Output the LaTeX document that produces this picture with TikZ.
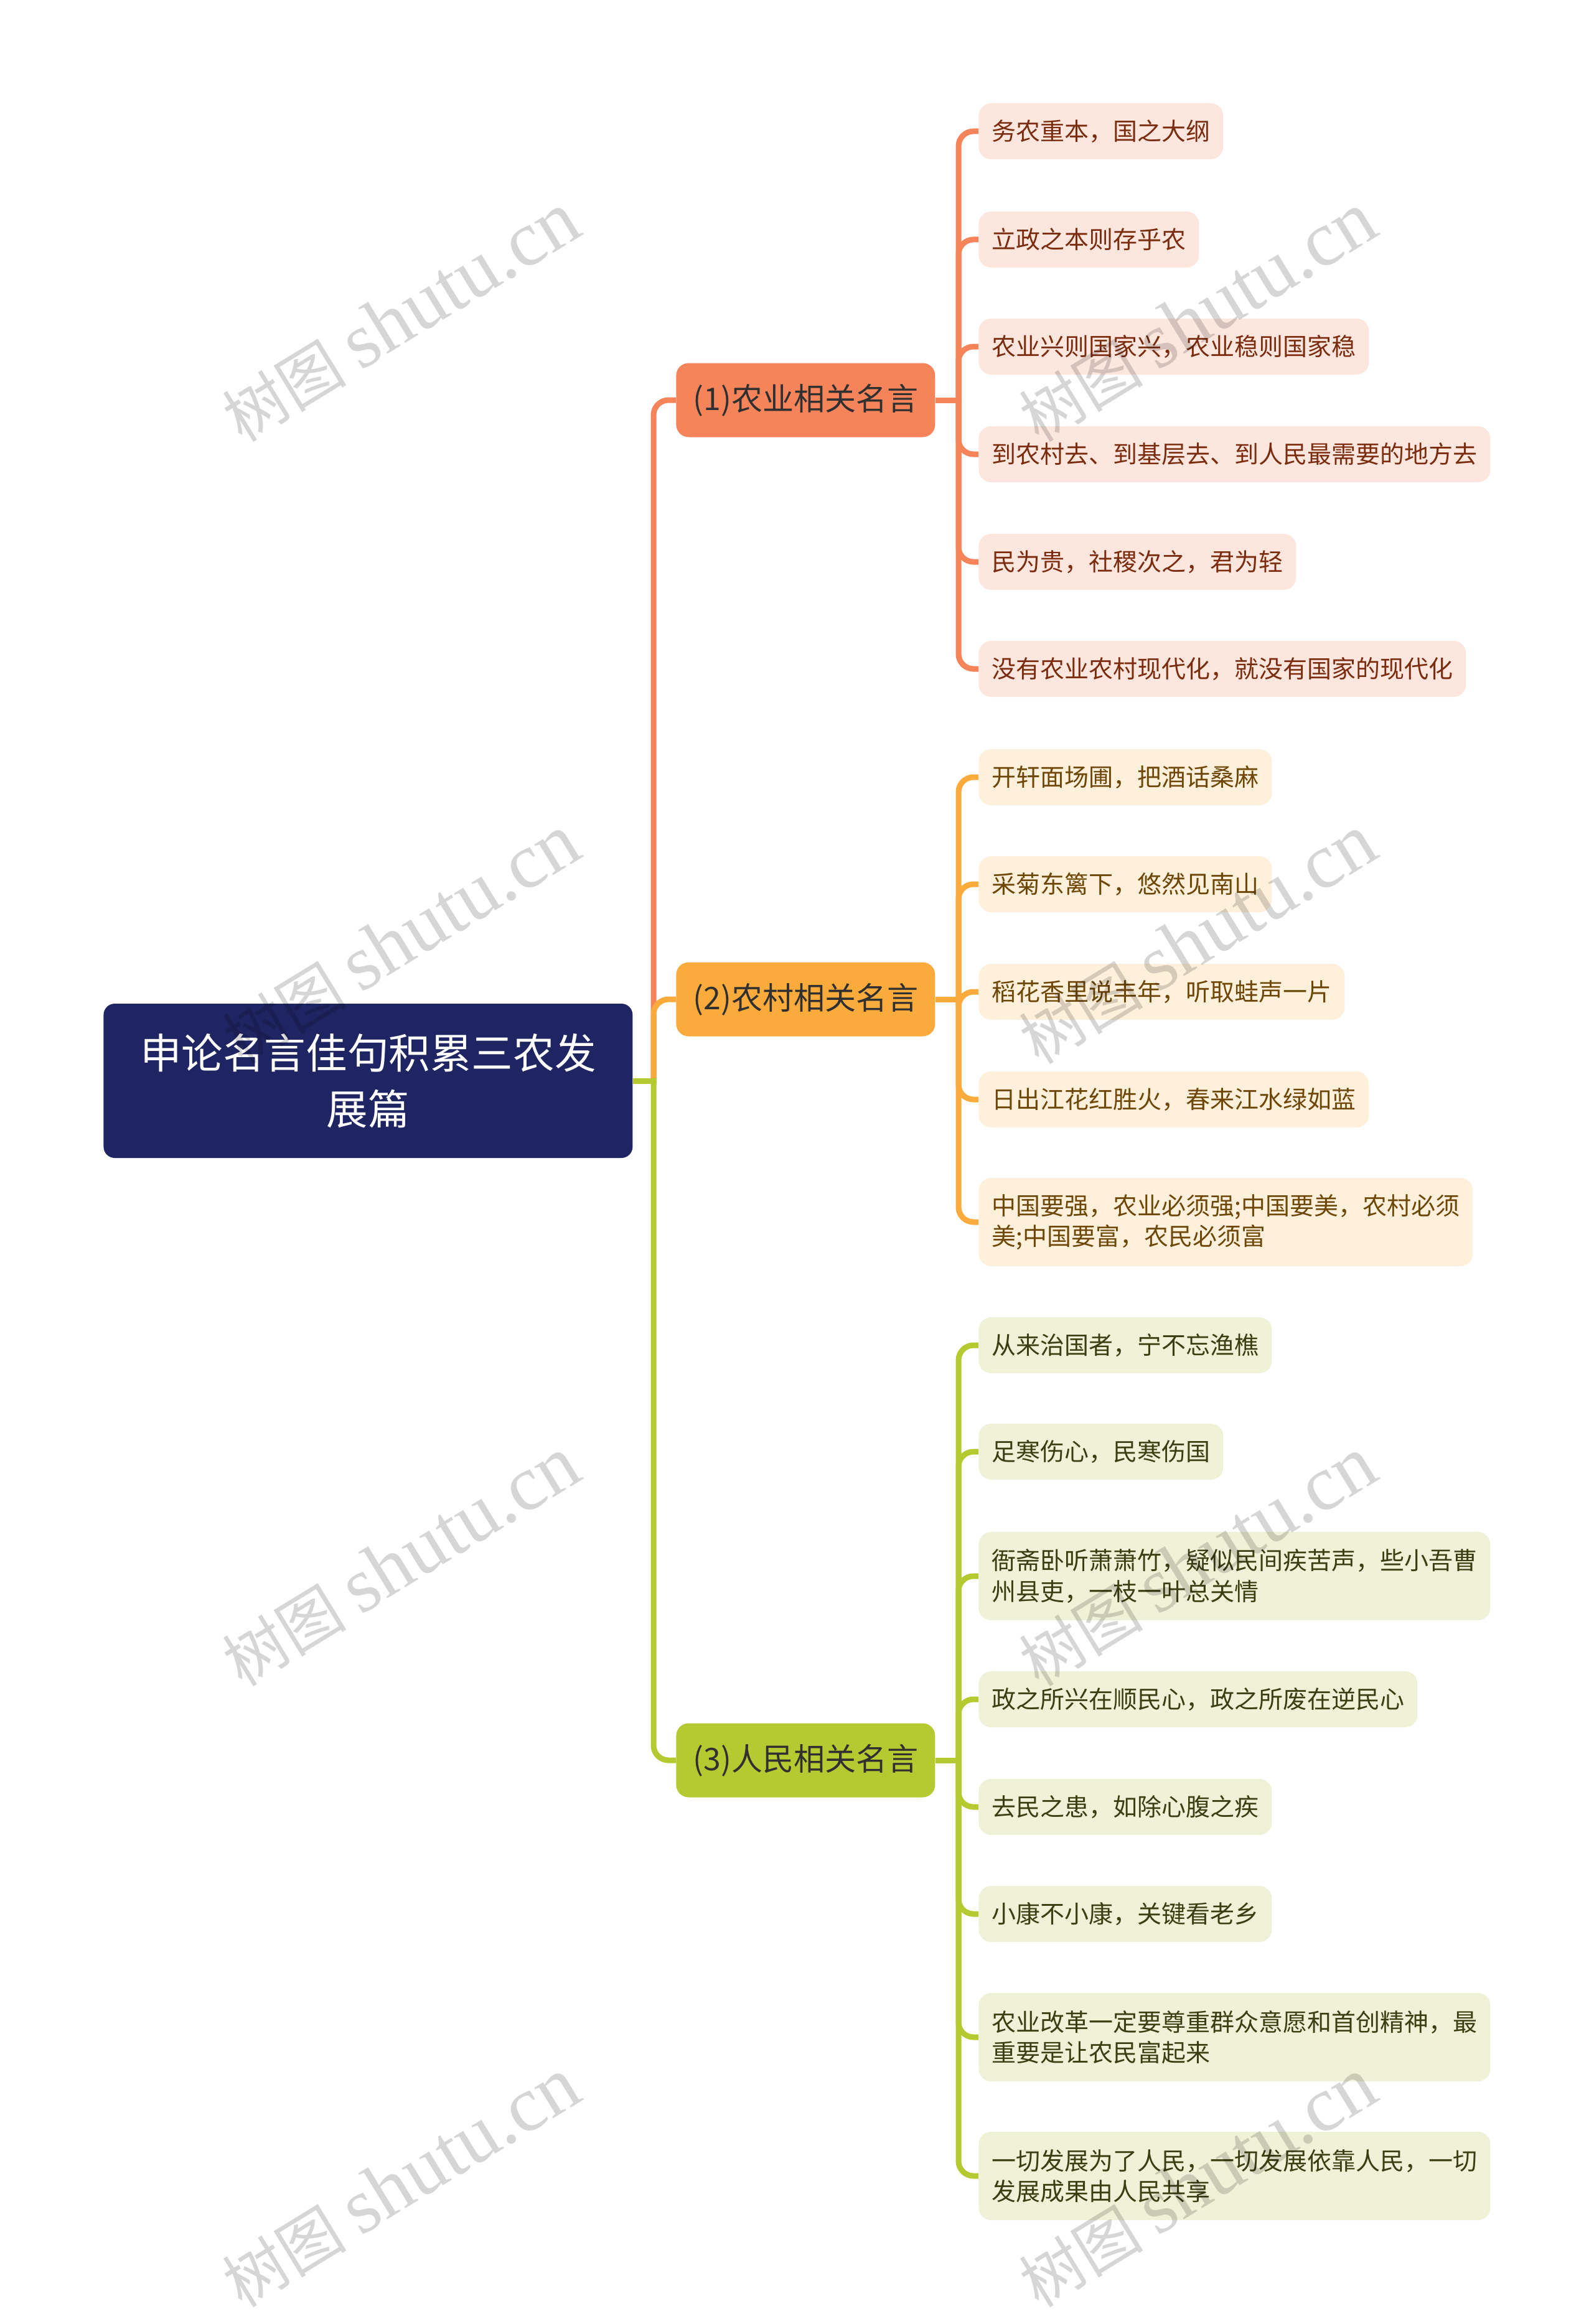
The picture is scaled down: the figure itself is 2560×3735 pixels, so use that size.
\documentclass[tikz,border=0pt]{standalone}
\usepackage{fontspec}
\setmainfont{Noto Sans CJK SC}
\newfontfamily\wmserif{Liberation Serif}
\definecolor{rootc}{HTML}{1E2562}
\definecolor{cA}{HTML}{F6845A}
\definecolor{cB}{HTML}{FAAB3B}
\definecolor{cC}{HTML}{B5CA30}
\definecolor{fA}{HTML}{FDE6DD}
\definecolor{fB}{HTML}{FEF0DB}
\definecolor{fC}{HTML}{F0F2D7}
\definecolor{tA}{HTML}{7B2C0F}
\definecolor{tB}{HTML}{6E4606}
\definecolor{tC}{HTML}{3B3D12}
\definecolor{lvtext}{HTML}{303030}
\tikzset{
  rootbox/.style={rounded corners=9pt, anchor=west, fill=rootc, text=white,
    minimum width=425pt, minimum height=124pt, inner sep=0pt, align=center,
    font=\fontsize{33.3}{45}\selectfont},
  lvl/.style={rounded corners=10pt, anchor=west, minimum width=208pt,
    minimum height=59.5pt, inner sep=0pt, text=lvtext,
    font=\fontsize{25}{30}\selectfont},
  leaf/.style={rounded corners=10pt, anchor=west, inner xsep=10.5pt, inner ysep=0pt,
    minimum height=45pt, align=left, font=\fontsize{19.5}{24.7}\selectfont},
  leafA/.style={leaf, fill=fA, text=tA},
  leafB/.style={leaf, fill=fB, text=tB},
  leafC/.style={leaf, fill=fC, text=tC},
  tall/.style={minimum height=71pt},
  conn/.style={line width=4.5pt, rounded corners=12pt},
  wm/.style={rotate=31.5, text=black, opacity=0.16, inner sep=0pt}
}
\begin{document}
\begin{tikzpicture}[x=0.5pt, y=-0.5pt]
\fill[white] (0,0) rectangle (2560,3735);
\useasboundingbox (0,0) rectangle (2560,3735);

% root and level-1
\node[rootbox] (root) at (166,1737) {申论名言佳句积累三农发\\展篇};
\node[lvl, fill=cA] (n1) at (1086,643) {(1)农业相关名言};
\node[lvl, fill=cB] (n2) at (1086,1606) {(2)农村相关名言};
\node[lvl, fill=cC] (n3) at (1086,2829) {(3)人民相关名言};

% group A
\node[leafA] (a1) at (1572,211) {务农重本，国之大纲};
\node[leafA] (a2) at (1572,385) {立政之本则存乎农};
\node[leafA] (a3) at (1572,557) {农业兴则国家兴，农业稳则国家稳};
\node[leafA] (a4) at (1572,730) {到农村去、到基层去、到人民最需要的地方去};
\node[leafA] (a5) at (1572,903) {民为贵，社稷次之，君为轻};
\node[leafA] (a6) at (1572,1075) {没有农业农村现代化，就没有国家的现代化};

% group B
\node[leafB] (b1) at (1572,1249) {开轩面场圃，把酒话桑麻};
\node[leafB] (b2) at (1572,1421) {采菊东篱下，悠然见南山};
\node[leafB] (b3) at (1572,1594) {稻花香里说丰年，听取蛙声一片};
\node[leafB] (b4) at (1572,1767) {日出江花红胜火，春来江水绿如蓝};
\node[leafB, tall] (b5) at (1572,1964) {中国要强，农业必须强;中国要美，农村必须\\美;中国要富，农民必须富};

% group C
\node[leafC] (c1) at (1572,2162) {从来治国者，宁不忘渔樵};
\node[leafC] (c2) at (1572,2333) {足寒伤心，民寒伤国};
\node[leafC, tall] (c3) at (1572,2533) {衙斋卧听萧萧竹，疑似民间疾苦声，些小吾曹\\州县吏，一枝一叶总关情};
\node[leafC] (c4) at (1572,2731) {政之所兴在顺民心，政之所废在逆民心};
\node[leafC] (c5) at (1572,2904) {去民之患，如除心腹之疾};
\node[leafC] (c6) at (1572,3076) {小康不小康，关键看老乡};
\node[leafC, tall] (c7) at (1572,3274) {农业改革一定要尊重群众意愿和首创精神，最\\重要是让农民富起来};
\node[leafC, tall] (c8) at (1572,3497) {一切发展为了人民，一切发展依靠人民，一切\\发展成果由人民共享};

% junction coordinates
\coordinate (j0) at (1050,1737);
\coordinate (jA) at (1540,643);
\coordinate (jB) at (1540,1606);
\coordinate (jC) at (1540,2829);

% root connectors
\draw[conn, cA] (j0) |- (n1.west);
\draw[conn, cB] (j0) |- (n2.west);
\draw[conn, cC] (j0) |- (n3.west);
\draw[line width=4.5pt, cC] (root.east) -- ([xshift=2.25pt]j0);

% group A connectors
\foreach \t in {a1,a2,a3,a4,a5,a6} \draw[conn, cA] (jA) |- (\t.west);
\draw[line width=4.5pt, cA] (n1.east) -- ([xshift=2.25pt]jA);
% group B connectors
\foreach \t in {b1,b2,b3,b4,b5} \draw[conn, cB] (jB) |- (\t.west);
\draw[line width=4.5pt, cB] (n2.east) -- ([xshift=2.25pt]jB);
% group C connectors
\foreach \t in {c1,c2,c3,c4,c5,c6,c7,c8} \draw[conn, cC] (jC) |- (\t.west);
\draw[line width=4.5pt, cC] (n3.east) -- ([xshift=2.25pt]jC);

% watermarks
\foreach \wx in {644,1924} {
  \foreach \wy in {510,1510,2510,3508} {
    \node[wm] at (\wx,\wy) {\fontsize{50}{60}\selectfont 树图 {\wmserif\fontsize{63}{70}\selectfont shutu.cn}};
  }
}
\end{tikzpicture}
\end{document}
